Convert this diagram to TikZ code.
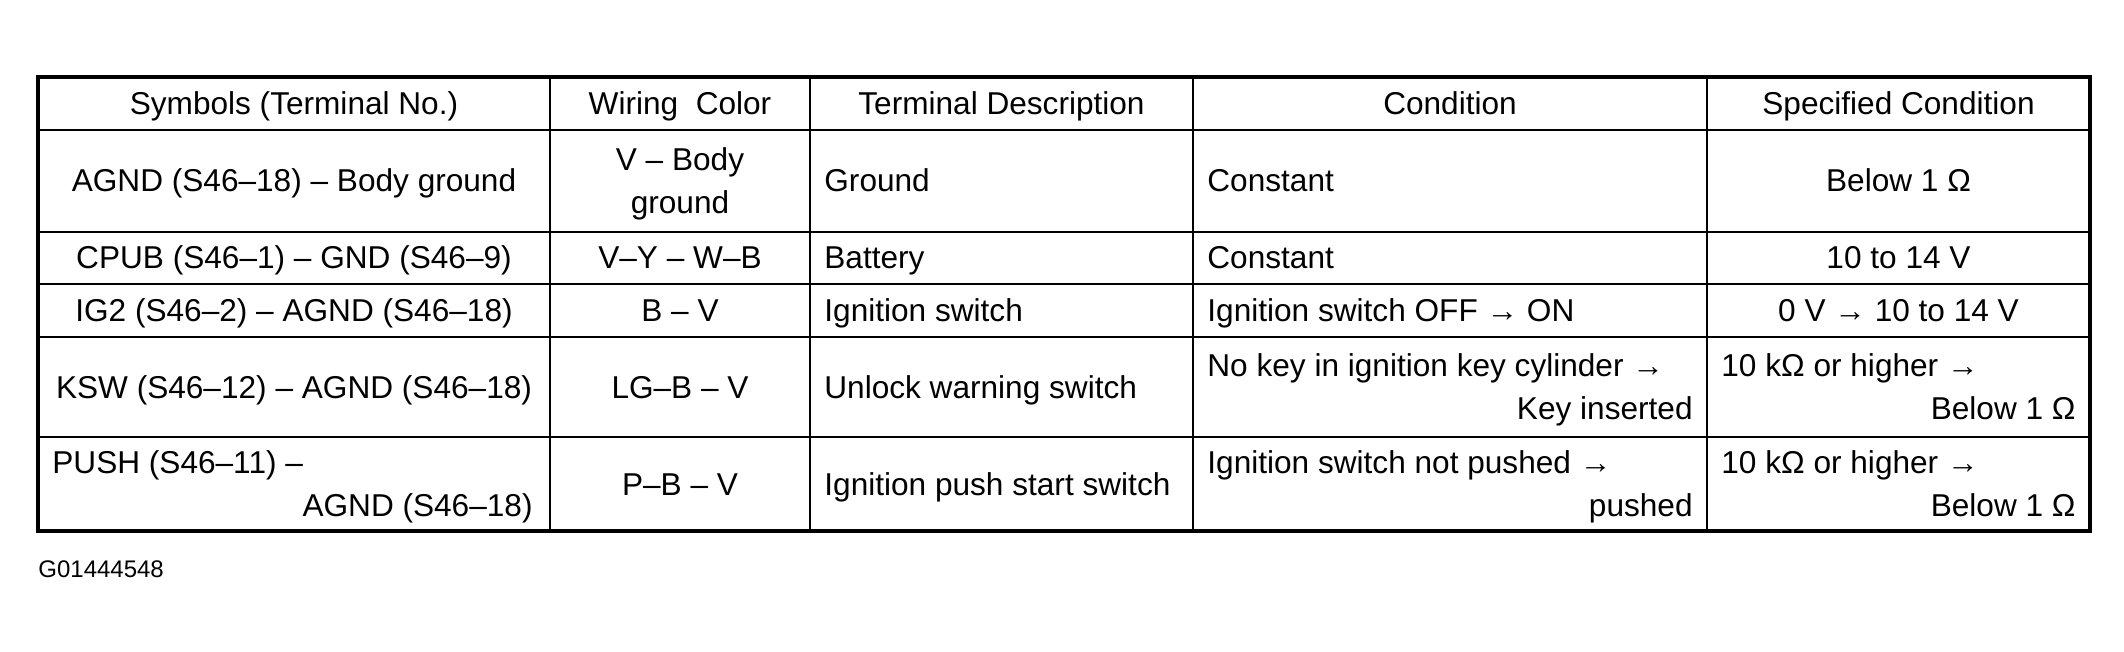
\documentclass[tikz,border=0pt]{standalone}
\usepackage{fontspec}
\setmainfont{Liberation Sans}
\usetikzlibrary{positioning}

\begin{document}
\begin{tikzpicture}[x=0.5pt,y=-0.5pt,
    frame/.style={line width=2pt},
    rule/.style={line width=1.4pt},
    txt/.style={anchor=base, inner sep=0pt, font=\fontsize{15.8}{21.5}\selectfont},
    lft/.style={txt, anchor=base west},
    rgt/.style={txt, anchor=base east}]
        \useasboundingbox (0,0) rectangle (2124,652);

        % Table frame and rules
        \foreach \x in {550,810,1193,1707}
            \draw[rule] (\x,77) -- (\x,531);
        \foreach \y in {130,232,284,337,437}
            \draw[rule] (38,\y) -- (2090,\y);
        \draw[frame] (38,77) rectangle (2090,531);

        % Header
        \node[txt] (hsym) at (294,114.5) {Symbols (Terminal No.)};
        \node[txt] (hwire) at (680,114.5) {Wiring\ \ Color};
        \node[txt] (hdesc) at (1001.5,114.5) {Terminal Description};
        \node[txt] (hcond) at (1450,114.5) {Condition};
        \node[txt] (hspec) at (1898.5,114.5) {Specified Condition};

        % AGND
        \node[txt] (agnd) at (294,192) {AGND (S46–18) – Body ground};
        \node[txt] (agndwa) at (680,170.5) {V – Body};
        \node[txt] (agndwb) at (680,213.5) {ground};
        \node[lft] (agndd) at (824,192) {Ground};
        \node[lft] (agndc) at (1207,192) {Constant};
        \node[txt] (agnds) at (1898.5,192) {Below 1 Ω};

        % CPUB
        \node[txt] (cpub) at (294,269) {CPUB (S46–1) – GND (S46–9)};
        \node[txt] (cpubw) at (680,269) {V–Y – W–B};
        \node[lft] (cpubd) at (824,269) {Battery};
        \node[lft] (cpubc) at (1207,269) {Constant};
        \node[txt] (cpubs) at (1898.5,269) {10 to 14 V};

        % IG2
        \node[txt] (ig) at (294,321.5) {IG2 (S46–2) – AGND (S46–18)};
        \node[txt] (igw) at (680,321.5) {B – V};
        \node[lft] (igd) at (824,321.5) {Ignition switch};
        \node[lft] (igc) at (1207,321.5) {Ignition switch OFF → ON};
        \node[txt] (igs) at (1898.5,321.5) {0 V → 10 to 14 V};

        % KSW
        \node[txt] (ksw) at (294,398) {KSW (S46–12) – AGND (S46–18)};
        \node[txt] (ksww) at (680,398) {LG–B – V};
        \node[lft] (kswd) at (824,398) {Unlock warning switch};
        \node[lft] (kswca) at (1207,376.5) {No key in ignition key cylinder →};
        \node[rgt] (kswcb) at (1693,419.5) {Key inserted};
        \node[lft] (kswsa) at (1721,376.5) {10 kΩ or higher →};
        \node[rgt] (kswsb) at (2076,419.5) {Below 1 Ω};

        % PUSH
        \node[lft] (pusha) at (52,473.5) {PUSH (S46–11) –};
        \node[rgt] (pushb) at (533,516.5) {AGND (S46–18)};
        \node[txt] (pushw) at (680,495) {P–B – V};
        \node[lft] (pushd) at (824,495) {Ignition push start switch};
        \node[lft] (pushca) at (1207,473.5) {Ignition switch not pushed →};
        \node[rgt] (pushcb) at (1693,516.5) {pushed};
        \node[lft] (pushsa) at (1721,473.5) {10 kΩ or higher →};
        \node[rgt] (pushsb) at (2076,516.5) {Below 1 Ω};

        % Figure number
        \node[anchor=base west, inner sep=0pt, font=\fontsize{12}{14}\selectfont] (figno) at (38,577) {G01444548};
    \end{tikzpicture}
\end{document}
